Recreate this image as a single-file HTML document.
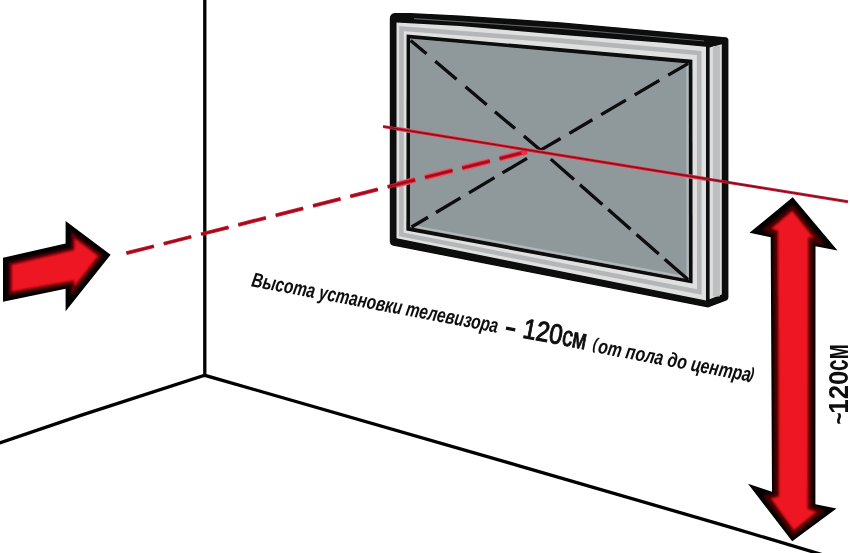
<!DOCTYPE html>
<html lang="ru">
<head>
<meta charset="utf-8">
<title>Высота установки телевизора</title>
<style>
html,body{margin:0;padding:0;background:#fff;}
body{width:850px;height:553px;overflow:hidden;}
svg{display:block;}
text{font-family:"Liberation Sans",sans-serif;fill:#0a0a0a;}
</style>
</head>
<body>
<svg width="850" height="553" viewBox="0 0 850 553">
<defs>
<filter id="soft" x="-5%" y="-5%" width="110%" height="110%"><feGaussianBlur stdDeviation="0.45"/></filter>
<filter id="soft2" x="-10%" y="-10%" width="120%" height="120%"><feGaussianBlur stdDeviation="1.1"/></filter>
</defs>
<rect width="850" height="553" fill="#ffffff"/>
<g filter="url(#soft)">
<!-- room lines -->
<g stroke="#060606" stroke-width="3.3" fill="none" stroke-linecap="butt" stroke-linejoin="miter">
<line x1="204.8" y1="-2" x2="204.8" y2="375.5"/>
<polyline points="-3,443.8 80,415.6 204.8,375.3 520,466.1 730,527.1 830,557"/>
</g>

<!-- TV -->
<g id="tv">
<!-- outer black silhouette -->
<path d="M395,13 Q389.8,13.4 389.8,19 L389.8,241 Q389.8,245 393.6,245.7 L708,307.6 L726.4,300.6 Q728.4,299.8 728.4,297.6 L728.4,40.4 Q728.4,37.6 725.6,37.3 L660,31.2 L560,22.3 L460,15.4 L410,13 Z" fill="#070707"/>
<!-- front frame grey -->
<path d="M396.5,22.4 L460,26 L560,34.8 L660,42.6 L706,46.8 L706,300.6 L396.5,238.2 Z" fill="#dfe0e0"/>
<path d="M401.5,28.6 L560,40.6 L699.2,53 L699.3,292 L401.4,234.4 Z" fill="none" stroke="#b4b6b7" stroke-width="4.6" stroke-linejoin="miter"/>
<!-- side face grey -->
<path d="M709.6,47.4 L721.8,44.2 L721.8,294.4 L709.6,299.2 Z" fill="#dcdddd"/>
<path d="M716.4,46 L716.4,296.4" stroke="#bcbebf" stroke-width="7" fill="none"/>
<!-- top face thin grey line -->
<path d="M414,18.6 L560,28.4 L704,41" stroke="#5a5e5f" stroke-width="1.2" fill="none"/>
<!-- inner black rect -->
<path d="M406.6,34.6 L692.4,59.8 L692.6,283.4 L406.4,230.6 Z" fill="#070707"/>
<!-- screen -->
<path d="M410,38.4 L688.7,63.4 L689,279.4 L410,227.2 Z" fill="#8f989b"/>
<path d="M687.4,65 L687.6,277.6 L412,226" stroke="#b9c0c2" stroke-width="2.2" fill="none" opacity="0.8"/>
</g>

<!-- black dashed diagonals -->
<g stroke="#0a0a0a" stroke-width="3.3" fill="none" stroke-linecap="butt">
<path d="M410.6,40.4 L540.6,150.2" stroke-dasharray="20.8 11.5 27.8 11.8 27.7 10.8 26.3 11.6 30"/>
<path d="M688,63.6 L540.6,150.2" stroke-dasharray="22.9 10.3 28.6 10.2 28.7 10.2 26.7 10.2 30"/>
<path d="M411.6,227 L540.6,150.2" stroke-dasharray="19.1 9.3 28.5 9.9 29.7 9.2 28.6 40"/>
<path d="M688,279.6 L540.6,150.2" stroke-dasharray="31 7.9 29.6 7.9 29.8 7.7 29.8 8 30.9 40"/>
</g>

<!-- red dashed line -->
<clipPath id="tvclip"><path d="M396.5,22.4 L706,46.5 L706,299.4 L396.5,238.2 Z"/></clipPath>
<g clip-path="url(#tvclip)">
<line x1="126.4" y1="253.2" x2="527" y2="151.6" stroke="#ea5a62" stroke-width="6" stroke-dasharray="28.4 10.1" fill="none"/>
<line x1="396" y1="128.6" x2="707" y2="179.2" stroke="#e8737a" stroke-width="4.2" fill="none"/>
</g>
<line x1="126.4" y1="253.2" x2="527" y2="151.6" stroke="#c8142c" stroke-width="3.8" stroke-dasharray="28.4 10.1" fill="none"/>
<line x1="126.4" y1="253.2" x2="527" y2="151.6" stroke="#8e0a1c" stroke-width="1.3" stroke-dasharray="28.4 10.1" fill="none"/>
<circle cx="524" cy="152.2" r="3" fill="#f03040"/>
<!-- red solid line -->
<line x1="383" y1="126.5" x2="848" y2="201.8" stroke="#c4253a" stroke-width="2.9" fill="none"/>
<line x1="383.5" y1="126.6" x2="847.5" y2="201.7" stroke="#84101f" stroke-width="1.3" fill="none"/>

<!-- left arrow -->
<path d="M3,257.8 L65.6,243.6 L65.6,221 L110.6,254.7 L65.6,311.2 L65.6,288.8 L3,301.8 Z" fill="#060606"/>
<path d="M10,263.4 L72.6,248.8 L72.6,234.6 L100.6,255.6 L72.6,291.6 L72.6,282.4 L10,293.6 Z" fill="#ee1420"/>
<path d="M10,263.4 L72.6,248.8 L72.6,234.6 L100.6,255.6 L72.6,291.6 L72.6,282.4 L10,293.6 Z" fill="none" stroke="#5a0407" stroke-width="3.2" filter="url(#soft2)"/>

<!-- double arrow -->
<path d="M792.7,197.2 L749.5,232.8 L770.7,237.2 L772,491.8 L748,483.8 L792.2,541.2 L836.5,508.4 L815.4,504.2 L815.5,246.2 L837.5,250.6 Z" fill="#060606"/>
<path d="M792.7,207.6 L766.6,229.6 L775.6,232.4 L776.6,494.8 L766.9,496.9 L793.4,533.6 L821,511.3 L810,507.2 L810.6,240 L819.5,241.6 Z" fill="#ee1420"/>
<path d="M792.7,207.6 L766.6,229.6 L775.6,232.4 L776.6,494.8 L766.9,496.9 L793.4,533.6 L821,511.3 L810,507.2 L810.6,240 L819.5,241.6 Z" fill="none" stroke="#4a0306" stroke-width="4.4" filter="url(#soft2)"/>

<!-- text -->
<g transform="translate(250.8,286.2) rotate(10.7)">
<text transform="scale(0.7486,1)" x="0" y="0" font-size="20.5" font-style="italic" font-weight="bold">Высота установки телевизора</text>
<g font-size="28" stroke="#0a0a0a" stroke-width="1">
<text transform="translate(257.6,1.2) scale(1.2,1)">-</text>
<text transform="translate(275.8,0) scale(0.85,1)">120</text>
<text transform="translate(315.6,0) scale(0.74,1)">см</text>
</g>
<g font-style="italic" font-weight="bold">
<text transform="translate(347.2,-2) scale(0.8,1)" font-size="16.5">(</text>
<text transform="translate(352.7,1.2) scale(0.774,1)" font-size="20.5">от пола до центра</text>
<text transform="translate(506.4,-1.4) scale(0.8,1)" font-size="16.5">)</text>
</g>
</g>
<g transform="translate(848,423.6) rotate(-90)" font-weight="bold">
<text transform="translate(-0.8,0) scale(0.78,1)" font-size="26.5">~</text>
<text transform="translate(9.85,0) scale(0.925,1)" font-size="28">120</text>
<text transform="translate(52.7,0) scale(0.628,1)" font-size="33">см</text>
</g>
</g>
</svg>
</body>
</html>
